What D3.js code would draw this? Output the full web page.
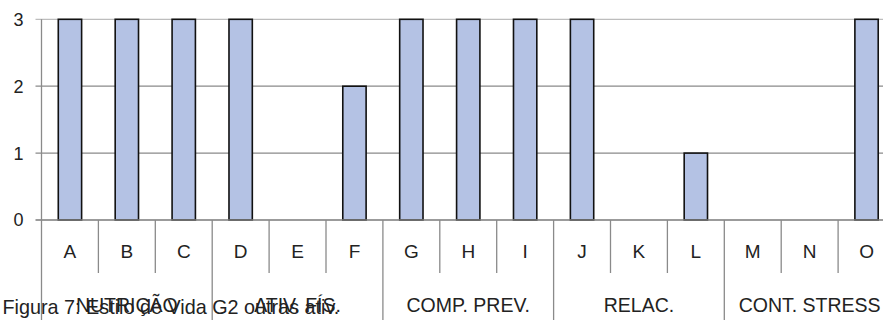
<!DOCTYPE html>
<html>
<head>
<meta charset="utf-8">
<script src="https://cdn.jsdelivr.net/npm/d3@7"></script>
<style>
  html, body { margin: 0; padding: 0; background: #fff; }
  svg { display: block; font-family: "Liberation Sans", Arial, sans-serif; }
</style>
</head>
<body>
<svg id="chart" width="883" height="320"></svg>
<script>
// Items and their scores
const categories = ["A","B","C","D","E","F","G","H","I","J","K","L","M","N","O"];
const values     = [3, 3, 3, 3, 0, 2, 3, 3, 3, 3, 0, 1, 0, 0, 3];
// Groups of items shown on the second label row
const groupNames = ["NUTRIÇÃO", "ATIV. FÍS.", "COMP. PREV.", "RELAC.", "CONT. STRESS"];
const groupItems = [["A","B","C"], ["D","E","F"], ["G","H","I"], ["J","K","L"], ["M","N","O"]];
const yTicks = [0, 1, 2, 3];
const caption = "Figura 7: Estilo de Vida G2 outras ativ.";

const svg = d3.select("#chart");

const x = d3.scaleBand()
  .domain(categories)
  .range([41.5, 895])
  .paddingInner(0.59)
  .paddingOuter(0.295);
const step = x.step();
const left = x.range()[0];
const right = x.range()[1];

const y = d3.scaleLinear().domain([0, 3]).range([220, 19.3]);

// Horizontal gridlines
svg.append("g")
  .selectAll("line")
  .data(yTicks.filter(d => d > 0))
  .join("line")
  .attr("x1", left - 6).attr("x2", right)
  .attr("y1", d => y(d)).attr("y2", d => y(d))
  .attr("stroke", d => d === 3 ? "#bdbdbd" : "#8a8a8a")
  .attr("stroke-width", 1.3);

// Y axis labels
svg.append("g")
  .selectAll("text")
  .data(yTicks)
  .join("text")
  .attr("x", 23.5)
  .attr("y", d => y(d))
  .attr("dy", "0.36em")
  .attr("text-anchor", "end")
  .attr("font-size", 18)
  .attr("fill", "#222")
  .text(d => d);

// Bars
svg.append("g")
  .selectAll("rect")
  .data(categories.map((c, i) => ({ c, v: values[i] })).filter(d => d.v > 0))
  .join("rect")
  .attr("x", d => x(d.c))
  .attr("width", x.bandwidth())
  .attr("y", d => y(d.v))
  .attr("height", d => y(0) - y(d.v))
  .attr("fill", "#b4c2e4")
  .attr("stroke", "#111")
  .attr("stroke-width", 1.6);

// Baseline and left axis
svg.append("line")
  .attr("x1", left - 6).attr("x2", right)
  .attr("y1", y(0)).attr("y2", y(0))
  .attr("stroke", "#7a7a7a").attr("stroke-width", 1.5);
svg.append("line")
  .attr("x1", left).attr("x2", left)
  .attr("y1", y(3)).attr("y2", 320)
  .attr("stroke", "#8a8a8a").attr("stroke-width", 1.3);

// Category dividers: short inside groups, full height at group boundaries
const groupStarts = new Set(groupItems.map(g => categories.indexOf(g[0])));
const dividerIdx = d3.range(1, categories.length + 1);
svg.append("g")
  .selectAll("line")
  .data(dividerIdx)
  .join("line")
  .attr("x1", i => left + i * step).attr("x2", i => left + i * step)
  .attr("y1", y(0))
  .attr("y2", i => groupStarts.has(i) || i === categories.length ? 320 : 273)
  .attr("stroke", "#8a8a8a").attr("stroke-width", 1.3);

// Category labels
svg.append("g")
  .selectAll("text")
  .data(categories)
  .join("text")
  .attr("x", d => x(d) + x.bandwidth() / 2)
  .attr("y", 258)
  .attr("text-anchor", "middle")
  .attr("font-size", 19)
  .attr("fill", "#222")
  .text(d => d);

// Group labels
svg.append("g")
  .selectAll("text")
  .data(groupNames)
  .join("text")
  .attr("x", (d, i) => {
    const first = categories.indexOf(groupItems[i][0]);
    return left + (first + groupItems[i].length / 2) * step;
  })
  .attr("y", 311.5)
  .attr("text-anchor", "middle")
  .attr("font-size", 19.5)
  .attr("fill", "#222")
  .text(d => d);

// Caption, drawn over the group row
svg.append("text")
  .attr("x", 2.5)
  .attr("y", 314)
  .attr("font-size", 19.8)
  .attr("fill", "#222")
  .text(caption);
</script>
</body>
</html>
